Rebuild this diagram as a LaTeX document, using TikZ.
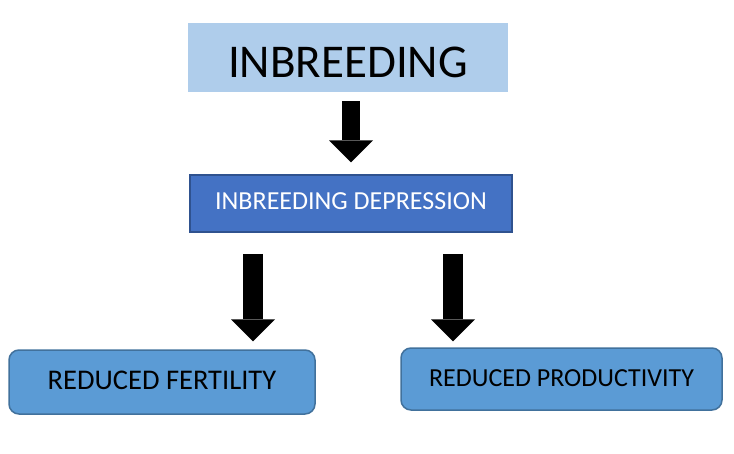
\documentclass[tikz,border=0pt]{standalone}
\usepackage{fontspec}
\setmainfont{Carlito}
\usepackage{tikz}
\usetikzlibrary{arrows.meta,positioning}

\definecolor{lightbox}{RGB}{175,205,235}
\definecolor{darkbox}{HTML}{4472C4}
\definecolor{darkedge}{HTML}{2F528F}
\definecolor{midbox}{HTML}{5B9BD5}
\definecolor{midedge}{HTML}{41719C}

\tikzset{
  effect/.style={rounded corners=10pt,fill=midbox,draw=midedge,line width=1.5pt,
    font=\fontsize{26}{30}\selectfont,text height=17pt,text depth=3pt},
  blockarrow/.style={line width=20pt,-{Triangle[width=44pt,length=22pt,line width=0pt]}}
}

\begin{document}
\begin{tikzpicture}[x=1pt,y=-1pt]
\useasboundingbox (0,0) rectangle (734,453);

\node[fill=lightbox,minimum width=320pt,minimum height=69pt,
    font=\fontsize{47}{56}\selectfont,text height=40pt,text depth=0pt] at (348,57.5) (inb) {INBREEDING};

\node[fill=darkbox,draw=darkedge,line width=1.5pt,text=white,minimum width=322pt,minimum height=57pt,
    font=\fontsize{26}{30}\selectfont,text height=17pt,text depth=5pt] at (351,203.5) (dep) {INBREEDING DEPRESSION};

\node[effect,minimum width=306pt,minimum height=64pt,font=\fontsize{28.5}{32}\selectfont] at (162,382) (fert) {REDUCED FERTILITY};
\node[effect,minimum width=321pt,minimum height=62pt] at (561.5,379) (prod) {REDUCED PRODUCTIVITY};

\draw[blockarrow,line width=18pt,shorten <=9pt,shorten >=12pt] (inb.south -| dep.north) -- (dep.north);
\draw[blockarrow,shorten <=21pt,shorten >=8pt] ([xshift=-98pt]dep.south) -- ([xshift=-98pt]dep.south |- fert.north);
\draw[blockarrow,shorten <=21pt,shorten >=6pt] ([xshift=102pt]dep.south) -- ([xshift=102pt]dep.south |- prod.north);
\end{tikzpicture}
\end{document}
